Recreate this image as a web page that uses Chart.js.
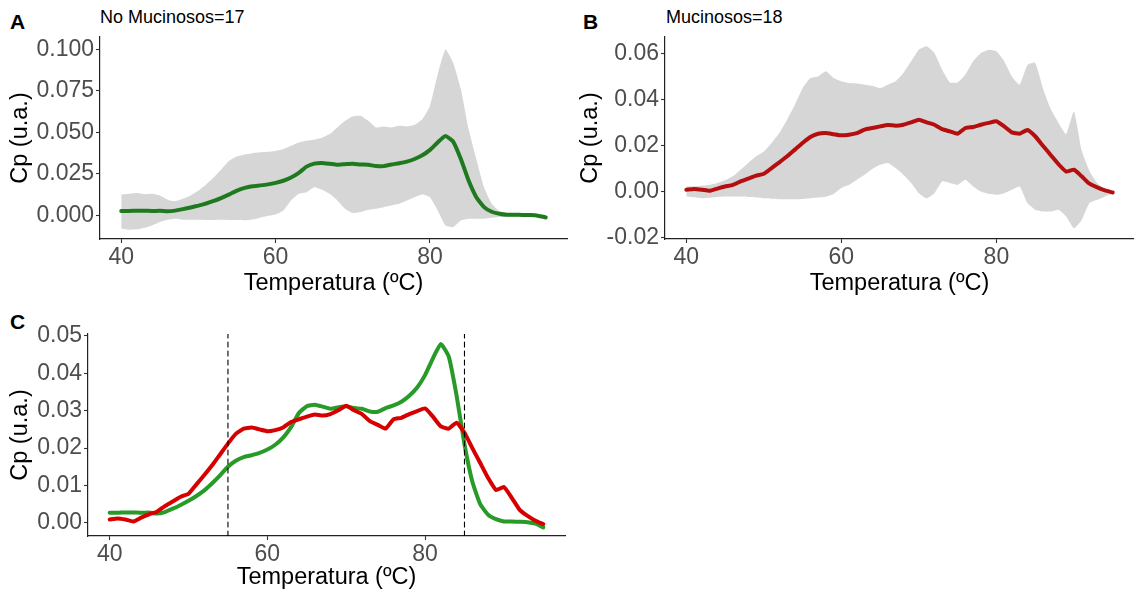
<!DOCTYPE html>
<html>
<head>
<meta charset="utf-8">
<script src="https://cdn.jsdelivr.net/npm/chart.js@4.4.1/dist/chart.umd.min.js"></script>
<style>
  body { margin: 0; width: 1134px; height: 592px; background: #fff; position: relative; overflow: hidden;
         font-family: "Liberation Sans", Arial, sans-serif; }
  .panel { position: absolute; }
  .tag { position: absolute; font-weight: bold; font-size: 21px; line-height: 21px; color: #000; }
  .title { position: absolute; font-size: 18px; line-height: 18px; color: #000; white-space: nowrap; }
</style>
</head>
<body>
<div class="tag" style="left:10px; top:11px;">A</div>
<div class="title" style="left:100px; top:8px;">No Mucinosos=17</div>
<div class="tag" style="left:583px; top:11px;">B</div>
<div class="title" style="left:666px; top:8px;">Mucinosos=18</div>
<div class="tag" style="left:10px; top:311px;">C</div>

<div class="panel" style="left:0; top:30px; width:580px; height:272px;"><canvas id="chartA"></canvas></div>
<div class="panel" style="left:570px; top:30px; width:564px; height:272px;"><canvas id="chartB"></canvas></div>
<div class="panel" style="left:0; top:320px; width:580px; height:272px;"><canvas id="chartC"></canvas></div>

<script>
// temperature grid (ºC)
const temps = [40, 41, 42, 43, 44, 45, 46, 47, 48, 49, 50, 51, 52, 53, 54, 55, 56, 57, 58, 59,
               60, 61, 62, 63, 64, 65, 66, 67, 68, 69, 70, 71, 72, 73, 74, 75, 76, 77, 78, 79,
               80, 81, 82, 83, 84, 85, 86, 87, 88, 89, 90, 91, 92, 93, 94, 95];

// No mucinosos (n=17): mean Cp and band
const noMucMean = [0.0027, 0.0027, 0.0028, 0.0028, 0.0027, 0.0028, 0.0025, 0.0029, 0.0038, 0.0048,
                   0.0059, 0.0072, 0.0087, 0.0106, 0.0127, 0.0150, 0.0166, 0.0176, 0.0181, 0.0187,
                   0.0196, 0.0209, 0.0228, 0.0256, 0.0294, 0.0312, 0.0316, 0.0311, 0.0305, 0.0309,
                   0.0312, 0.0307, 0.0305, 0.0298, 0.0297, 0.0307, 0.0314, 0.0324, 0.0340, 0.0362,
                   0.0395, 0.0440, 0.0478, 0.0445, 0.0340, 0.0210, 0.0110, 0.0050, 0.0022, 0.0010,
                   0.0004, 0.0004, 0.0003, 0.0002, -0.0002, -0.0012];
const noMucHigh = [0.0125, 0.0130, 0.0135, 0.0128, 0.0130, 0.0120, 0.0095, 0.0086, 0.0100, 0.0120,
                   0.0150, 0.0187, 0.0230, 0.0280, 0.0330, 0.0355, 0.0367, 0.0375, 0.0380, 0.0383,
                   0.0388, 0.0400, 0.0420, 0.0440, 0.0450, 0.0456, 0.0468, 0.0490, 0.0530, 0.0570,
                   0.0596, 0.0600, 0.0570, 0.0530, 0.0536, 0.0530, 0.0540, 0.0536, 0.0546, 0.0580,
                   0.0660, 0.0850, 0.1000, 0.0920, 0.0760, 0.0520, 0.0340, 0.0170, 0.0070, 0.0025,
                   0.0012, 0.0010, 0.0008, 0.0006, 0.0004, -0.0004];
const noMucLow  = [-0.0080, -0.0086, -0.0084, -0.0074, -0.0060, -0.0040, -0.0026, -0.0020, -0.0026, -0.0026,
                   -0.0026, -0.0027, -0.0027, -0.0026, -0.0027, -0.0028, -0.0030, -0.0025, -0.0014, -0.0002,
                   0.0006, 0.0030, 0.0090, 0.0130, 0.0140, 0.0170, 0.0155, 0.0130, 0.0090, 0.0040,
                   0.0014, 0.0020, 0.0034, 0.0040, 0.0050, 0.0060, 0.0070, 0.0090, 0.0110, 0.0126,
                   0.0110, 0.0030, -0.0060, -0.0070, -0.0030, -0.0020, -0.0020, -0.0020, -0.0014, -0.0010,
                   -0.0010, -0.0010, -0.0010, -0.0010, -0.0012, -0.0020];

// Mucinosos (n=18): mean Cp and band
const mucMean = [0.0009, 0.0012, 0.0009, 0.0004, 0.0014, 0.0023, 0.0030, 0.0045, 0.0057, 0.0070,
                 0.0078, 0.0103, 0.0128, 0.0154, 0.0183, 0.0212, 0.0238, 0.0252, 0.0255, 0.0250,
                 0.0245, 0.0248, 0.0255, 0.0270, 0.0277, 0.0284, 0.0290, 0.0287, 0.0291, 0.0301,
                 0.0313, 0.0301, 0.0291, 0.0272, 0.0262, 0.0252, 0.0277, 0.0281, 0.0291, 0.0299,
                 0.0306, 0.0284, 0.0258, 0.0252, 0.0268, 0.0241, 0.0200, 0.0160, 0.0120, 0.0088,
                 0.0096, 0.0067, 0.0035, 0.0019, 0.0006, -0.0003];
const mucHigh = [0.0023, 0.0024, 0.0026, 0.0030, 0.0038, 0.0050, 0.0067, 0.0096, 0.0125, 0.0154,
                 0.0175, 0.0212, 0.0255, 0.0313, 0.0378, 0.0450, 0.0494, 0.0501, 0.0523, 0.0494,
                 0.0480, 0.0472, 0.0470, 0.0465, 0.0460, 0.0450, 0.0465, 0.0480, 0.0516, 0.0567,
                 0.0617, 0.0632, 0.0603, 0.0530, 0.0475, 0.0475, 0.0509, 0.0567, 0.0603, 0.0617,
                 0.0610, 0.0567, 0.0501, 0.0465, 0.0550, 0.0560, 0.0450, 0.0360, 0.0300, 0.0250,
                 0.0349, 0.0180, 0.0090, 0.0038, 0.0012, 0.0000];
const mucLow  = [-0.0020, -0.0024, -0.0028, -0.0026, -0.0023, -0.0021, -0.0020, -0.0021, -0.0023, -0.0025,
                 -0.0028, -0.0030, -0.0032, -0.0032, -0.0032, -0.0031, -0.0028, -0.0025, -0.0022, -0.0010,
                 0.0016, 0.0030, 0.0052, 0.0074, 0.0099, 0.0117, 0.0125, 0.0103, 0.0074, 0.0038,
                 -0.0006, -0.0028, -0.0006, 0.0045, 0.0038, 0.0030, 0.0052, 0.0023, 0.0001, -0.0009,
                 -0.0013, -0.0006, 0.0009, 0.0023, -0.0049, -0.0078, -0.0086, -0.0086, -0.0078, -0.0107,
                 -0.0158, -0.0122, -0.0049, -0.0035, -0.0020, -0.0006];

// vertical reference lines in panel C
const cutoffs = [55, 85];

// axis ticks
const xTicks = [40, 60, 80];
const yTicksA = [0, 0.025, 0.05, 0.075, 0.1];
const yTicksB = [-0.02, 0, 0.02, 0.04, 0.06];
const yTicksC = [0, 0.01, 0.02, 0.03, 0.04, 0.05];

const FONT = "'Liberation Sans', Arial, sans-serif";
const RIBBON = "#d6d6d6";

function pts(ys) {
  return temps.map((t, i) => ({ x: t, y: ys[i] }));
}

function scales(yMin, yMax, yTicks, decimals, yWidth, xHeight, xTitlePad) {
  const tickGrid = {
    drawOnChartArea: false, drawTicks: true, tickLength: 4, tickWidth: 1.1, tickColor: "#333",
  };
  const border = { display: true, color: "#222", width: 1.2 };
  return {
    x: {
      type: "linear", min: 37.25, max: 97.75,
      afterBuildTicks: (s) => { s.ticks = xTicks.map((v) => ({ value: v })); },
      afterFit: (s) => { s.height = xHeight; s.paddingLeft = 0; s.paddingRight = 0; },
      grid: tickGrid, border: border,
      ticks: { color: "#4d4d4d", font: { family: FONT, size: 23 }, padding: 1, maxRotation: 0,
               callback: (v) => String(v) },
      title: { display: true, text: "Temperatura (ºC)", color: "#000",
               font: { family: FONT, size: 23.5 }, padding: { top: 0, bottom: xTitlePad } },
    },
    y: {
      type: "linear", min: yMin, max: yMax,
      afterBuildTicks: (s) => { s.ticks = yTicks.map((v) => ({ value: v })); },
      afterFit: (s) => { s.width = yWidth; s.paddingTop = 0; s.paddingBottom = 0; },
      grid: tickGrid, border: border,
      ticks: { color: "#4d4d4d", font: { family: FONT, size: 23 }, padding: 2,
               callback: (v) => Number(v).toFixed(decimals) },
      title: { display: true, text: "Cp (u.a.)", color: "#000",
               font: { family: FONT, size: 23.5 }, padding: { top: 6, bottom: 0 } },
    },
  };
}

const common = {
  responsive: true,
  maintainAspectRatio: false,
  animation: false,
  events: [],
  elements: {
    point: { radius: 0 },
    line: { tension: 0.15, borderCapStyle: "round", borderJoinStyle: "round" },
  },
  plugins: { legend: { display: false }, tooltip: { enabled: false }, title: { display: false } },
};

function bandChart(id, mean, high, low, color, yMin, yMax, yTicks, decimals, yWidth, padRight) {
  new Chart(document.getElementById(id), {
    type: "line",
    data: {
      datasets: [
        { data: pts(mean), borderColor: color, borderWidth: 4, fill: false, order: 0 },
        { data: pts(high), borderColor: "rgba(0,0,0,0)", borderWidth: 0, backgroundColor: RIBBON,
          fill: "+1", order: 1 },
        { data: pts(low), borderColor: "rgba(0,0,0,0)", borderWidth: 0, fill: false, order: 1 },
      ],
    },
    options: {
      ...common,
      layout: { padding: { top: 7, right: padRight, bottom: 0, left: 0 } },
      scales: scales(yMin, yMax, yTicks, decimals, yWidth, 63, 4),
    },
  });
}

bandChart("chartA", noMucMean, noMucHigh, noMucLow, "#1f7a1f", -0.0142, 0.1075, yTicksA, 3, 100, 13);
bandChart("chartB", mucMean, mucHigh, mucLow, "#b50e0e", -0.0205, 0.0672, yTicksB, 2, 95, 0);

// panel C: both means with dashed cutoffs
const yMinC = -0.0035, yMaxC = 0.0505;
const cutoffSets = cutoffs.map((c) => ({
  data: [{ x: c, y: yMinC }, { x: c, y: yMaxC }],
  borderColor: "#000", borderWidth: 1.1, borderDash: [5, 4], tension: 0, fill: false, order: 0,
}));

new Chart(document.getElementById("chartC"), {
  type: "line",
  data: {
    datasets: [
      ...cutoffSets,
      { data: pts(mucMean), borderColor: "#d60000", borderWidth: 4, fill: false, order: 1 },
      { data: pts(noMucMean), borderColor: "#289a28", borderWidth: 4, fill: false, order: 2 },
    ],
  },
  options: {
    ...common,
    layout: { padding: { top: 14, right: 15, bottom: 0, left: 0 } },
    scales: scales(yMinC, yMaxC, yTicksC, 2, 88, 56, 0),
  },
});
</script>
</body>
</html>
